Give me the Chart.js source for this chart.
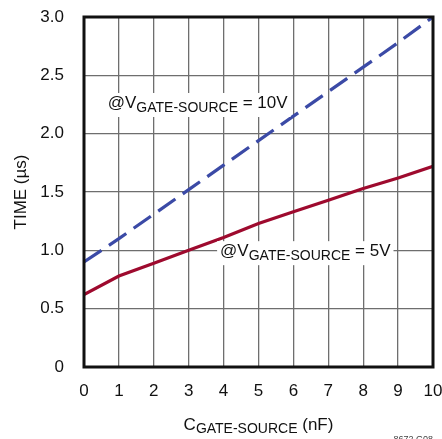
<!DOCTYPE html>
<html><head><meta charset="utf-8">
<script src="https://cdn.jsdelivr.net/npm/chart.js@4"></script>
<style>html,body{margin:0;padding:0;background:#fff}#wrap{width:442px;height:439px}</style>
</head><body><div id="wrap"><canvas id="c"></canvas></div>
<script>
const capNF = [0,1,2,3,4,5,6,7,8,9,10];
const time10V = [0.90,1.10,1.31,1.52,1.73,1.94,2.15,2.36,2.57,2.78,3.00];
const time5V = [0.62,0.78,0.89,1.00,1.11,1.23,1.33,1.43,1.53,1.62,1.72];
const yTicks = [0,0.5,1.0,1.5,2.0,2.5,3.0];
const FONT = "'Liberation Sans Narrow','Liberation Sans',sans-serif";

function drawSub(ctx, x, y, parts, align) {
  let w = 0;
  parts.forEach(p => { ctx.font = p[1] + 'px ' + FONT; w += ctx.measureText(p[0]).width; });
  let cx = align === 'center' ? x - w / 2 : x;
  ctx.textAlign = 'left'; ctx.textBaseline = 'alphabetic';
  parts.forEach(p => { ctx.font = p[1] + 'px ' + FONT; ctx.fillText(p[0], cx, y + p[2]); cx += ctx.measureText(p[0]).width; });
  return w;
}

const deco = {
  id: 'deco',
  afterDatasetsDraw(chart) {
    const ctx = chart.ctx, xs = chart.scales.x, ys = chart.scales.y;
    ctx.save();
    const labels = [
      {x: 0.68, y: 2.22, v: '10V'},
      {x: 3.9, y: 0.95, v: '5V'}
    ];
    labels.forEach(l => {
      const px = xs.getPixelForValue(l.x), py = ys.getPixelForValue(l.y);
      const parts = [['@V', 17, 0], ['GATE-SOURCE', 14, 4], [' = ' + l.v, 17, 0]];
      let w = 0;
      parts.forEach(p => { ctx.font = p[1] + 'px ' + FONT; w += ctx.measureText(p[0]).width; });
      ctx.fillStyle = '#fff';
      ctx.fillRect(px - 3, py - 15, w + 6, 24);
      ctx.fillStyle = '#111';
      drawSub(ctx, px, py, parts, 'left');
    });
    ctx.restore();
  },
  afterDraw(chart) {
    const ctx = chart.ctx, a = chart.chartArea;
    ctx.save();
    ctx.strokeStyle = '#111'; ctx.lineWidth = 3;
    ctx.strokeRect(a.left, a.top, a.right - a.left, a.bottom - a.top);
    ctx.fillStyle = '#111';
    ctx.translate(21, (a.top + a.bottom) / 2);
    ctx.rotate(-Math.PI / 2);
    ctx.font = '17px ' + FONT; ctx.textAlign = 'center'; ctx.textBaseline = 'middle';
    ctx.fillText('TIME (µs)', 0, 0);
    ctx.restore();
    ctx.save();
    ctx.fillStyle = '#111';
    drawSub(ctx, (a.left + a.right) / 2, 430, [['C', 17, 0], ['GATE-SOURCE', 14, 3], [' (nF)', 17, 0]], 'center');
    ctx.font = '9px ' + FONT; ctx.textAlign = 'right'; ctx.textBaseline = 'alphabetic';
    ctx.fillStyle = '#444';
    ctx.fillText('8672 G08', 433, 442);
    ctx.restore();
  }
};

new Chart(document.getElementById('c'), {
  type: 'line',
  data: {
    datasets: [
      {label: '10V', data: capNF.map((x, i) => ({x, y: time10V[i]})), borderColor: '#3b4aa6', borderWidth: 3.2, borderDash: [21, 9], pointRadius: 0, tension: 0, fill: false},
      {label: '5V', data: capNF.map((x, i) => ({x, y: time5V[i]})), borderColor: '#9e0a2e', borderWidth: 3.2, pointRadius: 0, tension: 0, fill: false}
    ]
  },
  options: {
    responsive: true, maintainAspectRatio: false, animation: false,
    devicePixelRatio: 1,
    layout: {padding: {top: 17, right: 9, left: 0, bottom: 0}},
    plugins: {legend: {display: false}, tooltip: {enabled: false}},
    scales: {
      x: {type: 'linear', min: 0, max: 10,
        afterFit(s) { s.height = 72; s.paddingRight = 0; s.paddingLeft = 0; },
        ticks: {stepSize: 1, padding: 14, color: '#111', font: {family: FONT, size: 17}, maxRotation: 0},
        grid: {color: '#6e6e6e', lineWidth: 1.3, drawTicks: false},
        border: {display: false}},
      y: {type: 'linear', min: 0, max: 3,
        afterFit(s) { s.width = 84; s.paddingTop = 0; s.paddingBottom = 0; },
        afterBuildTicks(s) { s.ticks = yTicks.map(v => ({value: v})); },
        ticks: {padding: 20, color: '#111', font: {family: FONT, size: 17},
          callback: v => v === 0 ? '0' : v.toFixed(1)},
        grid: {color: '#6e6e6e', lineWidth: 1.3, drawTicks: false},
        border: {display: false}}
    }
  },
  plugins: [deco]
});
</script></body></html>
